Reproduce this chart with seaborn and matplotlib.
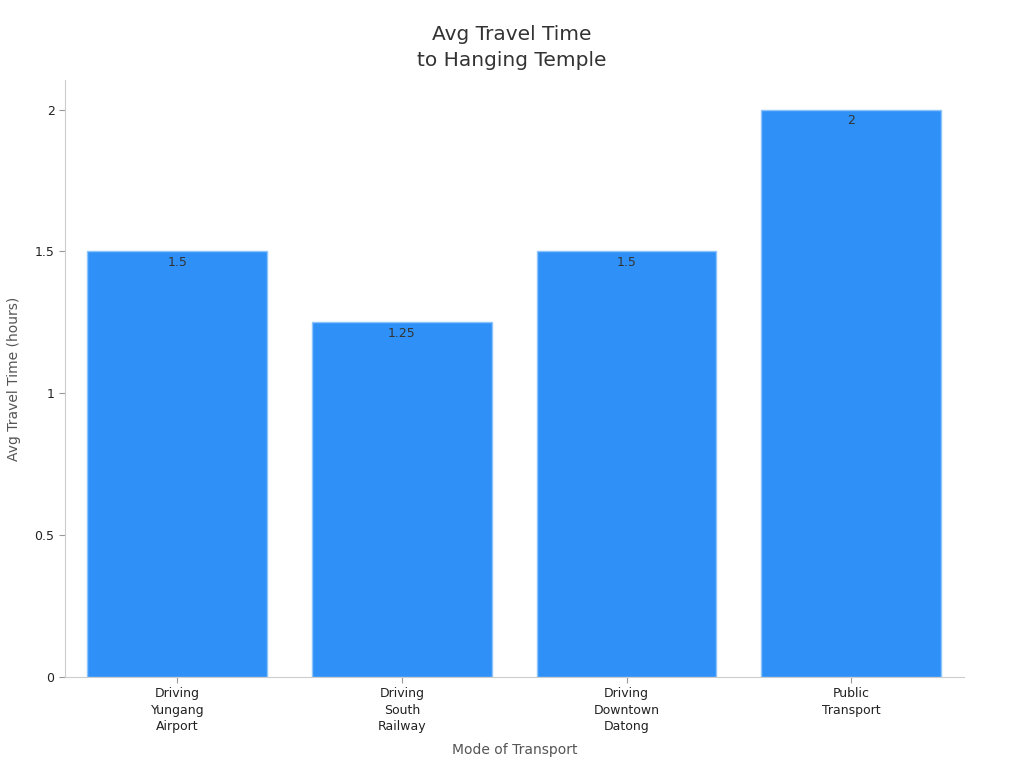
import matplotlib
matplotlib.use("Agg")
import matplotlib.pyplot as plt
import seaborn as sns
import pandas as pd

categories = ["Driving\nYungang\nAirport", "Driving\nSouth\nRailway", "Driving\nDowntown\nDatong", "Public\nTransport"]
values = [1.5, 1.25, 1.5, 2]
value_labels = ["1.5", "1.25", "1.5", "2"]
yticks = [0, 0.5, 1, 1.5, 2]
ytick_labels = ["0", "0.5", "1", "1.5", "2"]

sns.set_theme(style="white")
plt.rcParams['font.family'] = ['DejaVu Sans']

df = pd.DataFrame({"mode": categories, "hours": values})

fig = plt.figure(figsize=(10.24, 7.68), dpi=100)
ax = fig.add_axes([0.0635, 0.1185, 0.8775, 0.7775])

sns.barplot(data=df, x="mode", y="hours", ax=ax, color="#2f91f8", width=0.8,
            saturation=1, edgecolor="#8cc4fb", linewidth=1)

for i, (v, lab) in enumerate(zip(values, value_labels)):
    ax.text(i, v - 0.015, lab, ha="center", va="top", fontsize=9, color="#333333")

ax.set_xlim(-0.5, 3.5)
ax.set_ylim(0, 2.105)
ax.set_yticks(yticks)
ax.set_yticklabels(ytick_labels)
ax.tick_params(axis="both", labelsize=9, colors="#222222", length=4, width=0.8, color="#999999")
ax.tick_params(axis="both", which="both", direction="out", bottom=True, left=True)
for t in ax.get_xticklabels():
    t.set_linespacing(1.35)

for s in ["top", "right"]:
    ax.spines[s].set_visible(False)
for s in ["left", "bottom"]:
    ax.spines[s].set_color("#cccccc")
    ax.spines[s].set_linewidth(0.8)

ax.set_xlabel("Mode of Transport", fontsize=10, color="#555555", labelpad=7)
ax.set_ylabel("Avg Travel Time (hours)", fontsize=10, color="#555555", labelpad=10)
fig.suptitle("Avg Travel Time\nto Hanging Temple", fontsize=14.5, color="#333333", y=0.968, linespacing=1.5)

fig.savefig("out.png", dpi=100)
